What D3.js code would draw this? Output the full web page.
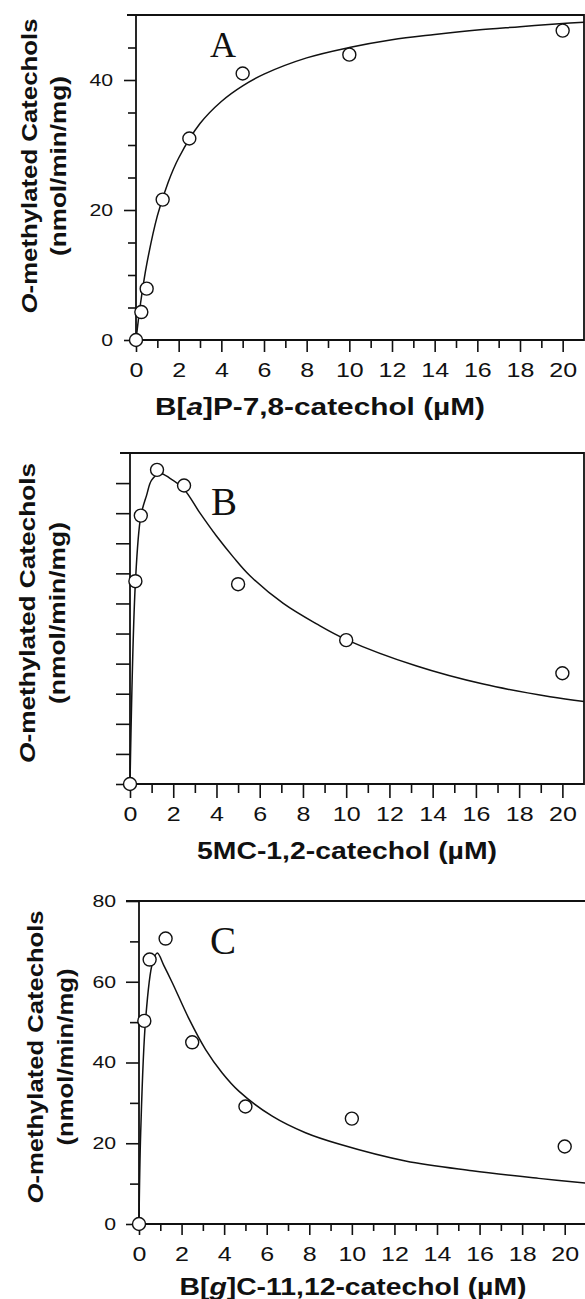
<!DOCTYPE html>
<html>
<head>
<meta charset="utf-8">
<script src="https://cdn.jsdelivr.net/npm/d3@7"></script>
<style>
  body { margin: 0; background: #fff; }
  svg { display: block; }
  text { font-family: "Liberation Sans", Arial, sans-serif; fill: #111; }
</style>
</head>
<body>
<svg id="chart" width="585" height="1299"></svg>
<script>
"use strict";

// substrate concentrations (uM), shared by all three panels
var conc = [0, 0.25, 0.5, 1.25, 2.5, 5, 10, 20];

// measured rates (nmol/min/mg)
var rateA = [0, 4.3, 7.9, 21.6, 31.0, 41.0, 43.9, 47.6];
var rateB = [0, 33.7, 44.6, 52.2, 49.6, 33.2, 23.9, 18.4];
var rateC = [0, 50.3, 65.5, 70.7, 45.0, 29.1, 26.1, 19.2];

// fitted curves
var fitXA = [0, 0.1, 0.25, 0.5, 1, 1.5, 2, 3, 4, 5, 6, 8, 10, 12, 14, 16, 18, 20, 21];
var fitYA = [0, 2.8, 6.5, 11.6, 19.1, 24.2, 28.0, 33.3, 36.7, 39.1, 40.9, 43.4, 45.0, 46.2, 47.0, 47.7, 48.2, 48.7, 48.9];
var fitXB = [0, 0.25, 0.5, 0.77, 1.0, 1.39, 1.85, 2.47, 3.24, 4.0, 4.78, 5.55, 7.09, 8.63, 10, 13.26, 16.34, 19.43, 21];
var fitYB = [0, 33.5, 44.5, 48.0, 50.5, 51.6, 50.8, 49.1, 45.0, 41.2, 37.7, 34.6, 30.0, 26.6, 24.0, 19.6, 16.6, 14.5, 13.7];
var fitXC = [0, 0.08, 0.31, 0.63, 0.86, 1.17, 1.57, 2.35, 3.13, 3.91, 4.69, 6.26, 7.82, 9.39, 12.52, 15.65, 18.78, 21];
var fitYC = [0, 22.7, 50.6, 64.6, 67.1, 64.0, 59.7, 50.8, 43.2, 37.4, 32.9, 26.7, 22.6, 19.8, 15.6, 13.2, 11.3, 10.1];

// ticks
var xTickLabels = [0, 2, 4, 6, 8, 10, 12, 14, 16, 18, 20];
var xMinorTicks = [1, 3, 5, 7, 9, 11, 13, 15, 17, 19];
var yTicksA = [0, 5, 10, 15, 20, 25, 30, 35, 40, 45];
var yLabelsA = [0, 20, 40];
var yTicksB = [0, 5, 10, 15, 20, 25, 30, 35, 40, 45, 50];
var yLabelsB = [];
var yTicksC = [10, 30, 50, 70];
var yLabelsC = [0, 20, 40, 60, 80];

// titles
var xTitles = [
    [["B[", false], ["a", true], ["]P-7,8-catechol (\u00b5M)", false]],
    [["5MC-1,2-catechol (\u00b5M)", false]],
    [["B[", false], ["g", true], ["]C-11,12-catechol (\u00b5M)", false]]
];
var panelLetters = ["A", "B", "C"];

var svg = d3.select("#chart");

var panels = [
    {left: 136, right: 584, top: 15, bottom: 340, yMax: 50,
     rate: rateA, fitX: fitXA, fitY: fitYA, yTicks: yTicksA, yLabels: yLabelsA,
     yMaj: 12, yMin: 8, xMaj: 12, xMin: 8, topExt: 9,
     letter: [210, 57, 36], xTitle: [320, 415, 330],
     yTitle: [37, 66, 166, 295, 180]},
    {left: 130, right: 584, top: 453, bottom: 784, yMax: 55,
     rate: rateB, fitX: fitXB, fitY: fitYB, yTicks: yTicksB, yLabels: yLabelsB,
     yMaj: 14, yMin: 14, xMaj: 14, xMin: 9, topExt: 10,
     letter: [211, 515, 39], xTitle: [347, 859, 300],
     yTitle: [35, 65, 613, 300, 182]},
    {left: 139, right: 586, top: 901, bottom: 1224, yMax: 80,
     rate: rateC, fitX: fitXC, fitY: fitYC, yTicks: yTicksC, yLabels: yLabelsC,
     yMaj: 13, yMin: 9, xMaj: 11, xMin: 7, topExt: 13,
     letter: [210, 954, 39], xTitle: [353, 1295, 347],
     yTitle: [43, 73, 1057, 293, 177]}
];

function styleAxis(g) {
    g.select(".domain").remove();
    g.selectAll("line").attr("stroke", "#111").attr("stroke-width", 1.6);
}

panels.forEach(function (p, i) {
    var x = d3.scaleLinear().domain([0, 21]).range([p.left, p.right]),
        y = d3.scaleLinear().domain([0, p.yMax]).range([p.bottom, p.top]),
        g = svg.append("g");

    // minor x ticks
    g.append("g")
        .attr("transform", "translate(0," + p.bottom + ")")
        .call(d3.axisBottom(x).tickValues(xMinorTicks).tickSize(p.xMin).tickFormat(""))
        .call(styleAxis);

    // major x ticks with labels
    g.append("g")
        .attr("transform", "translate(0," + p.bottom + ")")
        .call(d3.axisBottom(x).tickValues(xTickLabels).tickSize(p.xMaj))
        .call(styleAxis)
        .selectAll("text")
        .attr("y", 37)
        .attr("dy", null)
        .attr("transform", "scale(1.25,1)")
        .style("font-size", "20px")
        .style("fill", "#111");

    // y minor ticks
    g.append("g")
        .attr("transform", "translate(" + p.left + ",0)")
        .call(d3.axisLeft(y).tickValues(p.yTicks.filter(function (v) { return p.yLabels.indexOf(v) < 0; }))
            .tickSize(p.yMin).tickFormat(""))
        .call(styleAxis);

    // y major ticks with labels
    if (p.yLabels.length) {
        g.append("g")
            .attr("transform", "translate(" + p.left + ",0)")
            .call(d3.axisLeft(y).tickValues(p.yLabels).tickSize(p.yMaj))
            .call(styleAxis)
            .selectAll("text")
            .attr("x", -23 / 1.25)
            .attr("transform", "scale(1.25,1)")
            .style("font-size", "17px")
            .style("fill", "#111");
    }

    // frame: left, bottom, top, right
    g.append("path")
        .attr("d", "M" + p.left + "," + p.top + "V" + p.bottom + "H" + p.right + "V" + p.top +
            "H" + (p.left - p.topExt))
        .attr("fill", "none")
        .attr("stroke", "#111")
        .attr("stroke-width", 1.8);

    // fitted curve
    var line = d3.line()
        .x(function (d, j) { return x(p.fitX[j]); })
        .y(function (d) { return y(d); })
        .curve(d3.curveCatmullRom.alpha(0.5));
    g.append("path")
        .attr("d", line(p.fitY))
        .attr("fill", "none")
        .attr("stroke", "#111")
        .attr("stroke-width", 1.5);

    // measured points
    g.selectAll("circle.pt")
        .data(p.rate)
        .join("circle")
        .attr("class", "pt")
        .attr("cx", function (d, j) { return x(conc[j]); })
        .attr("cy", function (d) { return y(d); })
        .attr("r", 6.5)
        .attr("fill", "#fff")
        .attr("stroke", "#111")
        .attr("stroke-width", 1.4);

    // panel letter
    g.append("text")
        .attr("x", p.letter[0])
        .attr("y", p.letter[1])
        .style("font-family", "'Liberation Serif', 'Times New Roman', serif")
        .style("font-size", p.letter[2] + "px")
        .text(panelLetters[i]);

    // x title
    var xt = g.append("text")
        .attr("x", p.xTitle[0])
        .attr("y", p.xTitle[1])
        .attr("text-anchor", "middle")
        .attr("textLength", p.xTitle[2])
        .attr("lengthAdjust", "spacingAndGlyphs")
        .style("font-size", "24px")
        .style("font-weight", "bold");
    xTitles[i].forEach(function (part) {
        xt.append("tspan")
            .style("font-style", part[1] ? "italic" : "normal")
            .text(part[0]);
    });

    // y title, two lines
    var yt1 = g.append("text")
        .attr("transform", "translate(" + p.yTitle[0] + "," + p.yTitle[2] + ") rotate(-90)")
        .attr("text-anchor", "middle")
        .attr("textLength", p.yTitle[3])
        .attr("lengthAdjust", "spacingAndGlyphs")
        .style("font-size", "22px")
        .style("font-weight", "bold");
    yt1.append("tspan").style("font-style", "italic").text("O");
    yt1.append("tspan").text("-methylated Catechols");

    g.append("text")
        .attr("transform", "translate(" + p.yTitle[1] + "," + p.yTitle[2] + ") rotate(-90)")
        .attr("text-anchor", "middle")
        .attr("textLength", p.yTitle[4])
        .attr("lengthAdjust", "spacingAndGlyphs")
        .style("font-size", "22px")
        .style("font-weight", "bold")
        .text("(nmol/min/mg)");
});
</script>
</body>
</html>
